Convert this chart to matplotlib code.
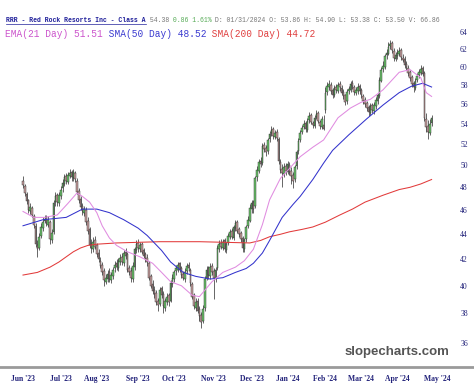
import numpy as np
import pandas as pd
import matplotlib
matplotlib.use("Agg")
import matplotlib.pyplot as plt
from matplotlib.lines import Line2D
from matplotlib.ticker import FixedLocator, NullLocator

# ── daily candles RRR, Jun 2023 - Apr 2024 ──────────────────────────────────
opens = [
    48.6, 48.1, 47.4, 46.9, 45.9, 46.2, 45.5, 44.7, 43.1, 42.9, 43.9, 44.5, 45.1, 45.4, 44.8, 45.0, 43.5, 44.2, 46.7, 47.3, 46.6,   # jun
    47.2, 47.9, 48.3, 49.0, 48.5, 49.0, 49.4, 48.8, 49.3, 48.6, 47.7, 47.0, 46.4, 45.8, 46.0, 45.1, 44.4, 43.2, 42.8, 43.5,         # jul
    43.1, 42.5, 41.9, 41.6, 41.1, 40.3, 40.5, 41.0, 40.4, 40.7, 41.3, 41.7, 41.3, 41.8, 42.2, 41.7, 42.6, 42.4, 41.3, 41.1, 40.5, 41.4, 42.7,  # aug
    43.3, 42.8, 43.2, 42.7, 42.4, 42.1, 41.7, 40.7, 40.1, 39.7, 39.5, 38.9, 38.7, 39.8, 39.4, 38.4, 38.8, 39.3, 38.9, 40.1,         # sep
    40.5, 41.1, 41.2, 41.7, 41.3, 40.9, 40.5, 41.1, 41.6, 41.2, 40.1, 39.3, 38.4, 38.9, 38.3, 37.9, 37.5, 38.4, 40.6, 41.3, 40.7, 41.5,  # oct
    41.1, 40.5, 41.3, 42.8, 43.3, 42.9, 43.5, 42.7, 43.3, 43.8, 44.3, 43.7, 44.5, 45.0, 44.4, 44.1, 43.7, 42.8, 43.6, 44.7, 45.1,   # nov
    46.1, 46.7, 46.4, 48.9, 49.5, 50.4, 50.2, 51.9, 51.6, 51.3, 52.5, 53.1, 53.5, 52.7, 53.2, 52.5, 50.3, 49.7, 49.2, 49.9,         # dec
    49.4, 50.0, 49.5, 49.1, 48.7, 49.9, 51.3, 52.4, 53.2, 53.7, 54.1, 53.4, 54.4, 54.9, 54.1, 53.8, 54.7, 55.1, 54.2, 53.7, 53.86,  # jan
    55.4, 57.3, 57.8, 58.0, 57.5, 56.9, 57.8, 57.4, 58.1, 57.7, 57.3, 56.9, 56.3, 57.4, 57.5, 58.2, 57.8, 57.2, 57.4, 57.9,         # feb
    57.5, 56.8, 56.4, 56.1, 55.7, 55.1, 55.9, 55.3, 55.8, 56.3, 56.8, 58.5, 59.8, 60.0, 61.3, 61.5, 62.4, 62.7, 61.8, 60.9,         # mar
    61.2, 61.5, 61.9, 61.0, 60.9, 60.3, 59.9, 59.4, 58.9, 58.2, 57.7, 58.6, 59.1, 59.3, 59.9, 59.3, 54.5, 53.8, 53.1, 54.1,         # apr
]
highs = [
    49.0, 48.3, 47.6, 47.0, 46.6, 46.4, 45.7, 44.9, 43.5, 44.1, 44.9, 45.4, 45.6, 45.6, 45.5, 45.2, 44.4, 46.9, 47.6, 47.5, 47.6,
    48.1, 48.7, 49.2, 49.3, 49.4, 49.7, 49.6, 49.7, 49.5, 48.8, 47.9, 47.2, 46.6, 46.4, 46.3, 45.4, 44.6, 43.6, 43.8, 43.9,
    43.3, 42.8, 42.2, 41.8, 41.3, 40.9, 41.2, 41.3, 41.0, 41.4, 41.9, 42.0, 42.1, 42.4, 42.5, 42.7, 42.9, 42.6, 41.6, 41.4, 41.8, 43.0, 43.5,
    43.6, 43.4, 43.4, 42.9, 42.6, 42.4, 41.9, 40.9, 40.4, 40.0, 39.7, 39.1, 39.9, 40.0, 39.6, 39.1, 39.5, 39.5, 40.4, 40.9,
    41.2, 41.6, 41.8, 41.8, 41.5, 41.1, 41.3, 41.7, 41.8, 41.3, 40.3, 39.5, 39.1, 39.1, 38.5, 38.1, 38.6, 40.7, 41.5, 41.5, 41.7, 41.7,
    41.3, 41.4, 43.1, 43.5, 43.6, 43.6, 43.7, 43.4, 44.1, 44.4, 44.5, 44.8, 45.2, 45.2, 44.6, 44.3, 43.9, 43.7, 44.8, 45.5, 46.5,
    46.9, 46.9, 49.0, 49.9, 50.6, 50.8, 52.1, 52.2, 51.9, 52.6, 53.3, 53.8, 53.7, 53.4, 53.5, 52.7, 50.6, 50.1, 50.2, 50.2,
    50.4, 50.3, 49.8, 49.4, 50.0, 51.4, 52.6, 53.4, 53.9, 54.4, 54.3, 54.6, 55.2, 55.1, 54.3, 54.9, 55.4, 55.3, 54.4, 54.8, 54.90,
    57.8, 58.3, 58.6, 58.3, 57.7, 58.0, 58.1, 58.3, 58.5, 58.0, 57.6, 57.1, 57.6, 57.9, 58.4, 58.6, 58.0, 57.8, 58.2, 58.1,
    57.7, 57.1, 56.7, 56.3, 55.9, 56.1, 56.1, 56.2, 56.7, 57.2, 58.9, 60.0, 60.6, 61.5, 62.0, 62.8, 63.1, 62.9, 62.1, 61.7,
    62.0, 62.2, 62.1, 61.4, 61.2, 60.6, 60.2, 59.6, 59.1, 58.5, 58.8, 59.3, 59.8, 60.2, 60.1, 59.5, 55.1, 54.4, 54.5, 54.9,
]
lows = [
    47.9, 47.2, 46.5, 45.8, 45.7, 45.4, 44.5, 43.0, 42.2, 42.7, 43.7, 44.3, 44.9, 44.7, 44.6, 43.2, 43.3, 44.0, 46.4, 46.4, 46.4,
    47.0, 47.6, 48.1, 48.3, 48.3, 48.8, 48.6, 48.6, 48.5, 47.4, 46.6, 46.0, 45.6, 45.5, 44.8, 44.0, 42.9, 42.5, 42.6, 42.8,
    42.2, 41.8, 41.3, 40.8, 40.0, 40.1, 40.3, 40.3, 40.2, 40.5, 41.0, 41.2, 41.1, 41.6, 41.6, 41.5, 42.0, 41.0, 40.8, 40.3, 40.3, 41.2, 42.5,
    42.6, 42.6, 42.4, 42.1, 41.8, 41.5, 40.4, 39.8, 39.4, 39.1, 38.6, 38.2, 38.5, 39.1, 38.0, 38.2, 38.6, 38.5, 38.8, 39.9,
    40.3, 40.8, 41.0, 41.0, 40.6, 40.4, 40.3, 40.9, 41.1, 40.0, 39.0, 38.3, 38.2, 38.0, 37.5, 37.0, 37.3, 38.2, 40.4, 40.5, 40.5, 40.8,
    39.0, 40.3, 41.2, 42.6, 42.8, 42.7, 42.6, 42.5, 43.1, 43.6, 43.6, 43.5, 44.3, 44.1, 43.8, 43.4, 42.6, 42.6, 43.4, 44.5, 45.0,
    45.8, 45.8, 46.2, 48.6, 49.3, 49.8, 50.0, 51.2, 50.9, 51.1, 52.2, 52.8, 52.5, 52.5, 52.3, 50.1, 49.3, 48.0, 48.9, 49.1,
    49.2, 49.1, 48.3, 47.9, 48.5, 49.7, 51.1, 52.2, 53.0, 53.5, 53.2, 53.2, 54.1, 54.0, 53.6, 53.6, 54.5, 54.1, 53.5, 53.5, 53.38,
    55.1, 56.9, 57.5, 57.1, 56.6, 56.7, 57.2, 57.2, 57.4, 56.9, 56.5, 55.9, 56.0, 57.1, 57.3, 57.6, 57.0, 56.9, 57.1, 57.1,
    56.6, 56.0, 55.7, 55.3, 54.8, 54.9, 55.1, 55.0, 55.5, 56.0, 56.6, 58.3, 59.4, 59.8, 60.9, 61.3, 62.0, 61.6, 60.7, 60.6,
    60.9, 61.2, 60.8, 60.5, 59.9, 59.7, 59.0, 58.5, 57.8, 57.3, 57.5, 58.3, 58.8, 59.1, 59.0, 54.3, 53.2, 52.5, 52.9, 53.8,
]
closes = [
    48.2, 47.5, 46.8, 46.0, 46.3, 45.6, 44.8, 43.2, 42.8, 43.8, 44.6, 45.0, 45.3, 44.9, 45.2, 43.6, 44.1, 46.6, 47.2, 46.7, 47.3,
    47.8, 48.4, 48.9, 48.6, 49.1, 49.3, 48.9, 49.4, 48.7, 47.6, 46.9, 46.3, 45.9, 46.1, 45.0, 44.3, 43.1, 42.9, 43.4, 43.0,
    42.4, 42.0, 41.5, 41.0, 40.4, 40.6, 40.9, 40.5, 40.8, 41.2, 41.6, 41.4, 41.9, 42.1, 41.8, 42.5, 42.3, 41.2, 41.0, 40.6, 41.5, 42.8, 43.2,
    42.9, 43.1, 42.6, 42.3, 42.0, 41.8, 40.6, 40.0, 39.6, 39.4, 38.8, 38.6, 39.7, 39.3, 38.5, 38.9, 39.2, 38.8, 40.2, 40.6,
    41.0, 41.3, 41.6, 41.2, 40.8, 40.6, 41.0, 41.5, 41.3, 40.2, 39.2, 38.5, 38.8, 38.2, 37.8, 37.4, 38.3, 40.5, 41.2, 40.8, 41.4, 41.0,
    40.6, 41.2, 42.9, 43.2, 43.0, 43.4, 42.8, 43.2, 43.9, 44.2, 43.8, 44.6, 44.9, 44.3, 44.0, 43.6, 42.9, 43.5, 44.6, 45.2, 46.2,
    46.6, 46.1, 48.8, 49.6, 50.3, 50.1, 51.8, 51.5, 51.2, 52.4, 53.0, 53.4, 52.8, 53.1, 52.6, 50.4, 49.6, 49.3, 49.8, 49.5,
    50.1, 49.4, 49.0, 48.6, 49.8, 51.2, 52.3, 53.1, 53.6, 54.0, 53.5, 54.3, 54.8, 54.2, 53.9, 54.6, 55.0, 54.3, 53.8, 54.5, 53.50,
    57.2, 57.9, 58.1, 57.4, 57.0, 57.7, 57.5, 58.0, 57.8, 57.2, 56.8, 56.2, 57.3, 57.6, 58.1, 57.9, 57.3, 57.5, 57.8, 57.4,
    56.9, 56.3, 56.0, 55.6, 55.2, 55.8, 55.4, 55.9, 56.4, 56.9, 58.6, 59.7, 60.1, 61.2, 61.6, 62.3, 62.6, 61.9, 61.0, 61.3,
    61.6, 61.8, 61.1, 60.8, 60.2, 60.0, 59.3, 58.8, 58.1, 57.8, 58.5, 59.0, 59.4, 59.8, 59.2, 54.6, 53.7, 53.2, 54.0, 54.6,
]

# ── moving averages, read at points (bar index, value) ───────────────────────
ema21_idx = [0, 6, 12, 19, 25, 30, 33, 37, 41, 44, 48, 52, 58, 65, 72, 77, 82, 88, 94, 98, 105, 111, 118, 123, 128, 133, 137, 143, 148, 154, 161, 167, 175, 182, 188, 193, 200, 209, 215, 221, 224, 227]
ema21_val = [45.9, 45.4, 45.4, 45.6, 46.6, 47.5, 47.2, 46.7, 45.8, 44.7, 43.7, 43.1, 42.6, 42.2, 41.7, 41.0, 40.3, 40.0, 39.3, 39.2, 40.3, 41.0, 41.4, 41.9, 42.8, 44.8, 46.9, 48.8, 49.7, 50.8, 51.7, 52.4, 54.6, 55.6, 56.2, 56.5, 57.5, 59.4, 59.7, 58.8, 57.2, 56.8]

sma50_idx = [0, 11, 24, 33, 41, 48, 56, 64, 69, 77, 82, 89, 96, 104, 111, 118, 124, 128, 133, 137, 144, 150, 154, 161, 167, 172, 181, 191, 200, 209, 216, 222, 227]
sma50_val = [44.7, 45.2, 45.4, 46.1, 46.1, 45.8, 45.2, 44.5, 43.9, 42.7, 41.8, 41.0, 40.7, 40.5, 40.6, 41.0, 41.3, 41.7, 42.5, 43.5, 45.4, 46.5, 47.2, 48.7, 50.2, 51.4, 52.9, 54.5, 55.9, 57.2, 57.9, 58.2, 57.8]

sma200_idx = [0, 8, 15, 20, 24, 28, 32, 36, 41, 52, 76, 98, 126, 132, 137, 143, 148, 155, 161, 168, 176, 183, 190, 200, 209, 215, 221, 227]
sma200_val = [40.8, 41.0, 41.4, 41.8, 42.2, 42.6, 42.9, 43.1, 43.2, 43.3, 43.4, 43.4, 43.3, 43.5, 43.8, 44.0, 44.2, 44.4, 44.6, 45.0, 45.6, 46.1, 46.7, 47.3, 47.8, 48.0, 48.3, 48.7]

y_ticks = list(range(36, 66, 2))

# ── trading calendar for month ticks ─────────────────────────────────────────
holidays = ["2023-06-19", "2023-07-04", "2023-09-04", "2023-11-23", "2023-12-25",
            "2024-01-01", "2024-01-15", "2024-02-19", "2024-03-29"]
days = pd.bdate_range("2023-06-01", "2024-05-01", freq="C", holidays=holidays)
pos = pd.Series(np.arange(len(days)), index=days)
month_first = pos.groupby(days.to_period("M")).first()
month_pos = month_first.values
month_lbl = [p.strftime("%b '%y") for p in month_first.index]

# ── figure ───────────────────────────────────────────────────────────────────
W, H, DPI = 474, 391, 100
fig = plt.figure(figsize=(W / DPI, H / DPI), dpi=DPI)
fig.patch.set_facecolor("white")
ax = fig.add_axes([0, 24 / H, 1, 367 / H])

UP, DOWN = "#6cc46c", "#c8a0a0"
x = np.arange(len(closes))
o = np.array(opens); h = np.array(highs); l = np.array(lows); c = np.array(closes)
up = c >= o
ax.vlines(x, l, h, color="#111111", lw=0.45, zorder=2)
ax.bar(x, np.abs(c - o), bottom=np.minimum(o, c), width=0.9,
       color=np.where(up, UP, DOWN), edgecolor="#222222", linewidth=0.3, zorder=3)

ax.plot(sma200_idx, sma200_val, color="#e23b3b", lw=0.75, zorder=4)
ax.plot(sma50_idx, sma50_val, color="#3333cc", lw=0.75, zorder=4)
ax.plot(ema21_idx, ema21_val, color="#e08ce0", lw=0.75, zorder=4)

ax.set_yscale("log")
ax.set_ylim(34.41, 67.91)
ax.set_xlim(-23 / 1.8, (W - 23) / 1.8)

ax.yaxis.set_major_locator(FixedLocator(y_ticks))
ax.yaxis.set_minor_locator(NullLocator())
ax.set_yticklabels([str(v) for v in y_ticks])
ax.yaxis.tick_right()
ax.tick_params(axis="y", length=0, pad=-10, labelsize=5.5, labelcolor="#22227a")
for t in ax.get_yticklabels():
    t.set_family("Liberation Serif")

ax.set_xticks(month_pos)
ax.set_xticklabels(month_lbl, family="Liberation Serif", fontsize=5.5,
                   color="#22227a", fontweight="bold")
ax.tick_params(axis="x", length=0, pad=6)

for s in ["top", "left", "right"]:
    ax.spines[s].set_visible(False)
ax.spines["bottom"].set_color("#9a9a9a")
ax.spines["bottom"].set_linewidth(2)

# ── header lines ─────────────────────────────────────────────────────────────
mono = "Liberation Mono"
t1 = fig.text(6 / W, 1 - 20 / H, "RRR - Red Rock Resorts Inc - Class A", family=mono,
              fontsize=4.7, color="#1f1f9a", fontweight="bold", va="center")
last = t1
for txt, col in [(" 54.38", "#777777"), (" 0.86 1.61%", "#55aa55"),
                 (" D: 01/31/2024 O: 53.86 H: 54.90 L: 53.38 C: 53.50 V: 66.86", "#777777")]:
    last = ax.annotate(txt, xy=(1, 0.5), xycoords=last, va="center", ha="left",
                       family=mono, fontsize=4.7, color=col, annotation_clip=False)

t2 = fig.text(5 / W, 1 - 34 / H, "EMA(21 Day) 51.51", family=mono, fontsize=6.85,
              color="#cc55cc", va="center")
last = t2
for txt, col in [(" SMA(50 Day) 48.52", "#3b3bd0"), (" SMA(200 Day) 44.72", "#e04040")]:
    last = ax.annotate(txt, xy=(1, 0.5), xycoords=last, va="center", ha="left",
                       family=mono, fontsize=6.85, color=col, annotation_clip=False)

fig.text(449 / W, 1 - 352 / H, "slopecharts.com", ha="right", va="center",
         family="Liberation Sans", fontweight="bold", fontsize=9.5, color="#555555")

# underline for the ticker name
fig.canvas.draw()
bb = t1.get_window_extent()
fig.add_artist(Line2D([bb.x0 / W, bb.x1 / W], [(bb.y0 - 0.5) / H] * 2,
                      color="#1f1f9a", lw=0.5))

fig.savefig("out.png", dpi=DPI)
